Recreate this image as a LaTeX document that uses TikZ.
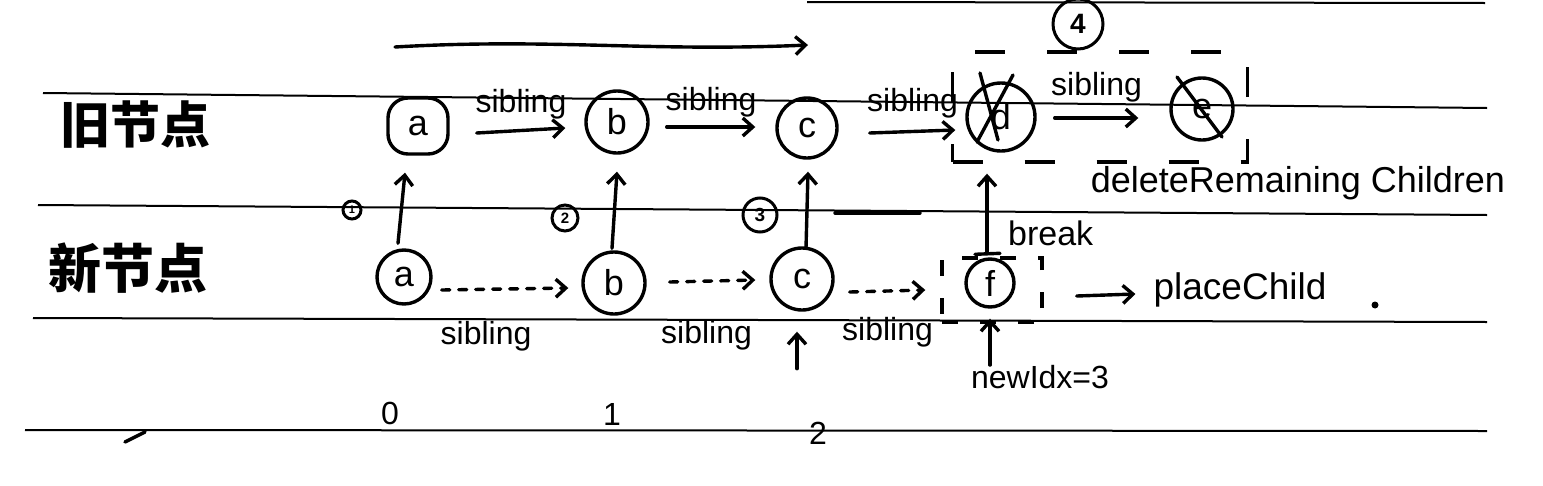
\documentclass[tikz,border=0pt]{standalone}
\usepackage{fontspec}
\setmainfont{Liberation Sans}
\newfontfamily\cjk{Noto Sans CJK SC}
\usetikzlibrary{arrows.meta}
\begin{document}
\begin{tikzpicture}[x=1pt,y=-1pt,
  rule/.style={line width=2pt},
  pen/.style={line width=3.4pt, line cap=round, line join=round},
  arr/.style={pen, -{Straight Barb[length=10pt,width=18pt]}},
  dasharr/.style={arr, dash pattern=on 8pt off 9pt},
  circ/.style={circle, draw, pen, inner sep=0pt, font=\fontsize{36}{40}\selectfont},
  lbl/.style={inner sep=0pt, font=\fontsize{32}{36}\selectfont},
  cn/.style={inner sep=0pt, font=\cjk\bfseries\fontsize{50}{56}\selectfont},
  num/.style={circle, draw, line width=3pt, inner sep=0pt, font=\bfseries},
  dbox/.style={draw, line width=3.4pt, dash pattern=on 30pt off 42pt, inner sep=0pt}
]
\useasboundingbox (0,0) rectangle (1543,485);
% ruled lines
\draw[rule] (807,2) -- (1485,3);
\draw[rule] (43,93) -- (1487,108);
\draw[rule] (38,205) -- (1487,215);
\draw[rule] (33,318) -- (1487,322);
\draw[rule] (25,430) -- (1487,431);
\draw[pen] (835,213) -- (920,213);
\draw[pen] (125,442) -- (145,432);

% row labels
\node[cn] (old) at (135,125) {旧节点};
\node[cn, font=\cjk\bfseries\fontsize{53}{58}\selectfont] (new) at (128,268) {新节点};

% top arrow
\coordinate (ts) at (395,47);
\coordinate (te) at (808,45);
\draw[arr] (ts) .. controls (550,38) and (650,52) .. (te);

% old nodes
\node[draw, pen, rounded corners=20pt, minimum width=60pt, minimum height=56pt, inner sep=0pt, font=\fontsize{36}{40}\selectfont] (oa) at (418,126) {a};
\node[circ, minimum size=62pt] (ob) at (617,122) {b};
\node[circ, minimum size=60pt] (oc) at (807,128) {c};
\node[circ, minimum size=68pt] (od) at (1001,117) {d};
\node[circ, minimum size=62pt] (oe) at (1202,109) {e};
\draw[pen] ([shift={(-21,-44)}]od.center) -- ([shift={(-3,23)}]od.center);
\draw[pen] ([shift={(12,-42)}]od.center) -- ([shift={(-24,25)}]od.center);
\draw[pen] ([shift={(-25,-32)}]oe.center) -- ([shift={(20,28)}]oe.center);

% new nodes
\node[circ, minimum size=54pt] (na) at (404,277) {a};
\node[circ, minimum size=62pt] (nb) at (614,283) {b};
\node[circ, minimum size=62pt] (nc) at (802,279) {c};
\node[circ, minimum size=48pt] (nf) at (990,283) {f};

% old sibling arrows
\draw[arr] ([shift={(27,7)}]oa.east) -- ([shift={(-19,6)}]ob.west)
  node[lbl, midway, above=10pt] {sibling};
\draw[arr] ([shift={(17,5)}]ob.east) -- ([shift={(-20,-1)}]oc.west)
  node[lbl, midway, above=8pt] {sibling};
\draw[arr] ([shift={(31,5)}]oc.east) -- ([shift={(-10,13)}]od.west)
  node[lbl, midway, above=12pt] {sibling};
\draw[arr] ([shift={(18,1)}]od.east) -- ([shift={(-31,9)}]oe.west)
  node[lbl, midway, above=14pt] {sibling};

% new sibling arrows
\draw[dasharr] ([shift={(9,13)}]na.east) -- ([shift={(-13,5)}]nb.west)
  node[lbl, pos=0.35, below=30pt] {sibling};
\draw[dasharr] ([shift={(23,-1)}]nb.east) -- ([shift={(-14,1)}]nc.west)
  node[lbl, midway, below=38pt, xshift=-6pt] {sibling};
\draw[dasharr] ([shift={(15,13)}]nc.east) -- ([shift={(-39,7)}]nf.west)
  node[lbl, midway, below=25pt] {sibling};

% vertical arrows new -> old
\draw[arr] ([shift={(-6,-5)}]na.north) -- ([shift={(-13,17)}]oa.south);
\draw[arr] ([shift={(-2,-2)}]nb.north) -- ([shift={(0,17)}]ob.south);
\draw[arr] ([shift={(4,2)}]nc.north) -- ([shift={(1,12)}]oc.south);
\draw[arr] ([shift={(-3,-4)}]nf.north) -- ([shift={(-14,21)}]od.south);
\draw[pen] ([shift={(-15,-3)}]nf.north) -- ([shift={(10,-4)}]nf.north);
\node[lbl, font=\fontsize{34}{38}\selectfont, anchor=west] (brk) at (1008,233) {break};

% circled step numbers
\node[num, minimum size=18pt, font=\bfseries\fontsize{11}{12}\selectfont] (s1) at (352,210) {1};
\node[num, minimum size=26pt, font=\bfseries\fontsize{15}{16}\selectfont] (s2) at (565,218) {2};
\node[num, minimum size=34pt, font=\bfseries\fontsize{19}{20}\selectfont] (s3) at (760,215) {3};
\node[num, minimum size=50pt, font=\bfseries\fontsize{28}{30}\selectfont] (s4) at (1078,24) {4};

% dashed boxes
\node[dbox, minimum width=295pt, minimum height=110pt] (debox) at (1100,107) {};
\node[dbox, dash pattern=on 16pt off 22pt, minimum width=100pt, minimum height=64pt] (fbox) at (992,290) {};

\node[lbl, font=\fontsize{36}{40}\selectfont] (del) at (1298,183) {deleteRemaining Children};

% placeChild
\node[lbl, font=\fontsize{37}{40}\selectfont] (pc) at (1240,290) {placeChild};
\draw[arr] ([shift={(33,6)}]fbox.east) -- ([shift={(-18,4)}]pc.west);
\fill (1375,305) circle (3.5pt);

% newIdx
\node[lbl] (idx) at (1040,377) {newIdx=3};
\draw[arr, shorten >=10pt] (idx.north -| nf.south) -- (nf.south);

% up arrow under c
\draw[arr] ([shift={(-5,57)}]nc.south) -- ([shift={(-5,20)}]nc.south);

% indices
\node[lbl] (i0) at (390,413) {0};
\node[lbl] (i1) at (612,414) {1};
\node[lbl] (i2) at (818,433) {2};
\end{tikzpicture}
\end{document}
